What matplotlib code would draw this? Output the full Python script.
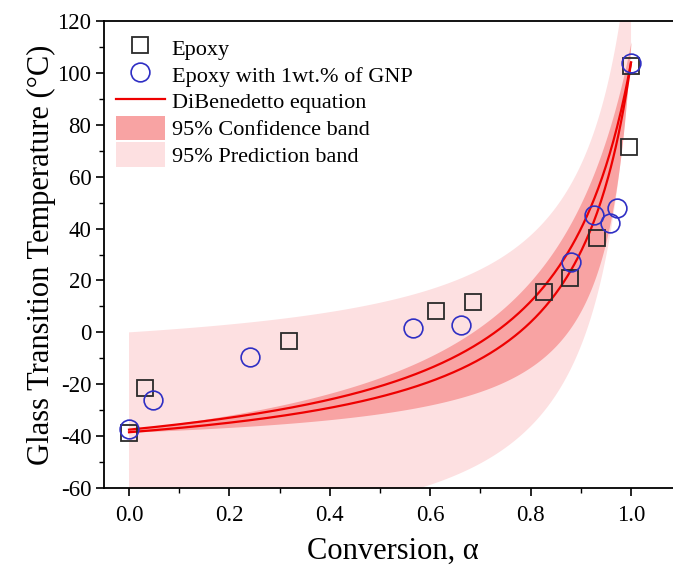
"""Glass transition temperature vs conversion with DiBenedetto fits."""

import numpy as np
import matplotlib

matplotlib.use("Agg")
import matplotlib.pyplot as plt
from matplotlib.patches import Patch
from matplotlib.lines import Line2D
from matplotlib.ticker import MultipleLocator

alpha_epoxy = [0.0, 0.032, 0.319, 0.612, 0.685, 0.827, 0.878, 0.932, 0.996, 1.0]
tg_epoxy = [-38.8, -21.5, -3.4, 8.2, 11.7, 15.5, 20.9, 36.3, 71.4, 102.7]

alpha_gnp = [0.0, 0.048, 0.241, 0.566, 0.661, 0.880, 0.926, 0.958, 0.972, 1.0]
tg_gnp = [-37.3, -26.1, -9.5, 1.7, 2.8, 27.1, 45.2, 42.2, 47.9, 104.0]

# DiBenedetto parameters (Tg0, Tg_inf, lambda) for the two fits
fit_params = [(-37.5, 104.0, 0.134), (-38.5, 104.0, 0.106)]
# band edges, same form: (Tg0, Tg_inf, lambda)
conf_upper = (-37.5, 112.0, 0.155)
conf_lower = (-38.5, 112.0, 0.05)
pred_upper = (0.0, 154.0, 0.08)
pred_lower = (-76.0, 110.0, 0.068)

LIGHT = "#fde0e1"
DARK = "#f8a3a3"
RED = "#ee0000"
BLUE = "#2f2fc4"


def dibenedetto(alpha, tg0, tginf, lam):
    return tg0 + (tginf - tg0) * lam * alpha / (1.0 - (1.0 - lam) * alpha)


plt.rcParams["font.family"] = ["Liberation Serif", "DejaVu Serif"]
plt.rcParams["axes.unicode_minus"] = False

fig = plt.figure(figsize=(6.73, 5.73), dpi=100)
ax = fig.add_axes([0.1544, 0.1483, 0.8578, 0.815])

a = np.linspace(0.0, 1.0, 400)
ax.fill_between(a, dibenedetto(a, *pred_lower), dibenedetto(a, *pred_upper),
                color=LIGHT, lw=0, zorder=1)
ax.fill_between(a, dibenedetto(a, *conf_lower), dibenedetto(a, *conf_upper),
                color=DARK, lw=0, zorder=2)
for p in fit_params:
    ax.plot(a, dibenedetto(a, *p), color=RED, lw=1.6, zorder=3)

ax.plot(alpha_epoxy, tg_epoxy, ls="none", marker="s", ms=11.5, mfc="none",
        mec="#2a2a2a", mew=1.3, zorder=4)
ax.plot(alpha_gnp, tg_gnp, ls="none", marker="o", ms=13.5, mfc="none",
        mec=BLUE, mew=1.2, zorder=5)

ax.set_xlim(-0.05, 1.1)
ax.set_ylim(-60, 120)
ax.set_xticks([0.0, 0.2, 0.4, 0.6, 0.8, 1.0])
ax.xaxis.set_minor_locator(MultipleLocator(0.1))
ax.yaxis.set_major_locator(MultipleLocator(20))
ax.yaxis.set_minor_locator(MultipleLocator(10))
ax.tick_params(which="major", direction="out", length=6, width=1.2, labelsize=16.5)
ax.tick_params(which="minor", direction="out", length=3.5, width=1.0)
ax.tick_params(axis="x", pad=6)
ax.tick_params(axis="y", pad=3)
ax.spines["right"].set_visible(False)
for s in ax.spines.values():
    s.set_linewidth(1.3)

ax.set_xlabel("Conversion, α", fontsize=22, labelpad=8)
ax.set_ylabel("Glass Transition Temperature (°C)", fontsize=22, labelpad=1)

handles = [
    Line2D([], [], ls="none", marker="s", ms=11.5, mfc="none", mec="#2a2a2a", mew=1.3),
    Line2D([], [], ls="none", marker="o", ms=13.5, mfc="none", mec=BLUE, mew=1.2),
    Line2D([], [], color=RED, lw=1.6),
    Patch(facecolor=DARK, edgecolor="none"),
    Patch(facecolor=LIGHT, edgecolor="none"),
]
labels = ["Epoxy", "Epoxy with 1wt.% of GNP", "DiBenedetto equation",
          "95% Confidence band", "95% Prediction band"]
ax.legend(handles, labels, loc="upper left", bbox_to_anchor=(-0.006, 1.003),
          frameon=False, fontsize=16, handlelength=2.2, handleheight=1.3,
          handletextpad=0.3, labelspacing=0.1, borderaxespad=0.3)

fig.savefig("out.png", dpi=100)
